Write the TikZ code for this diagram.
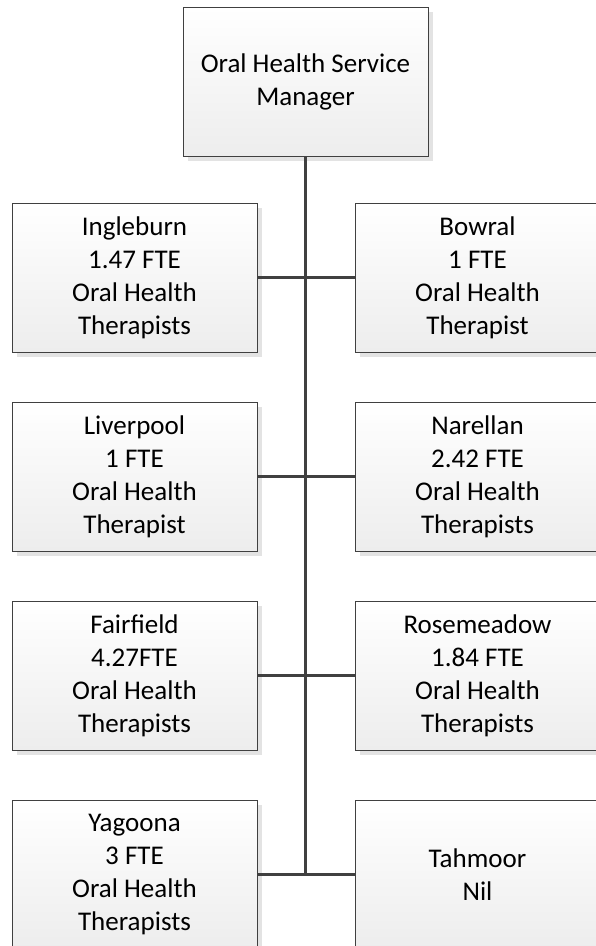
\documentclass[tikz,border=0pt]{standalone}
\usepackage{fontspec}
\setmainfont{Carlito}
\usepackage{tikz}
\usetikzlibrary{shadows}
\definecolor{linegray}{HTML}{404040}
\definecolor{boxbottom}{HTML}{EDEDED}
\definecolor{shadowgray}{HTML}{E3E3E3}
\tikzstyle{site}=[rectangle, draw=linegray, line width=0.8pt, top color=white, bottom color=boxbottom,
    minimum width=245pt, minimum height=149pt, align=center, font=\fontsize{27}{33}\selectfont,
    drop shadow={shadow xshift=5pt, shadow yshift=-5pt, fill=shadowgray, opacity=1}]
\tikzstyle{link}=[draw=linegray, line width=3pt]

\begin{document}
\begin{tikzpicture}[x=1pt,y=-1pt]
    \useasboundingbox (0,0) rectangle (595,946);
    % Manager
    \node[site] (mgr) at (305.5,81.5) {Oral Health Service\\Manager};

    % Left column
    \node[site] (ingleburn) at (134.5,277.5) {Ingleburn\\1.47 FTE\\Oral Health\\Therapists};
    \node[site] (liverpool) at (134.5,476.5) {Liverpool\\1 FTE\\Oral Health\\Therapist};
    \node[site] (fairfield) at (134.5,675.5) {Fairfield\\4.27FTE\\Oral Health\\Therapists};
    \node[site] (yagoona) at (134.5,874.5) {Yagoona\\3 FTE\\Oral Health\\Therapists};

    % Right column
    \node[site] (bowral) at (477.5,277.5) {Bowral\\1 FTE\\Oral Health\\Therapist};
    \node[site] (narellan) at (477.5,476.5) {Narellan\\2.42 FTE\\Oral Health\\Therapists};
    \node[site] (rosemeadow) at (477.5,675.5) {Rosemeadow\\1.84 FTE\\Oral Health\\Therapists};
    \node[site] (tahmoor) at (477.5,874.5) {Tahmoor\\Nil};

    % Connectors
    \coordinate (trunk) at (mgr.south |- yagoona.east);
    \draw[link] (mgr.south) -- (trunk);
    \foreach \l/\r in {ingleburn/bowral, liverpool/narellan, fairfield/rosemeadow, yagoona/tahmoor}{
        \draw[link] (\l.east) -- (\r.west);
    }
\end{tikzpicture}
\end{document}
